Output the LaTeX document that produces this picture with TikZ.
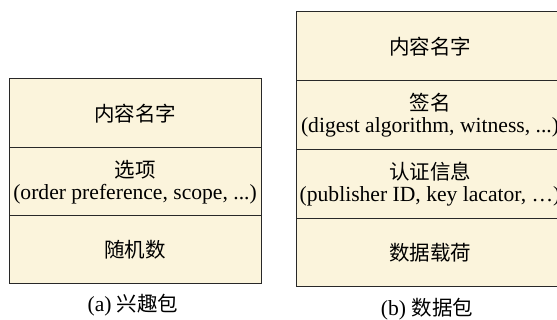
\documentclass[tikz,border=0pt]{standalone}
\usepackage{fontspec}
\setmainfont{Liberation Serif}
\newfontfamily\cjk{Noto Sans CJK SC}
\definecolor{cellfill}{RGB}{251,244,220}
\definecolor{cellline}{RGB}{40,40,40}
\newcommand{\zh}[1]{{\cjk\fontsize{20.5}{22}\selectfont #1}}
\begin{document}
\begin{tikzpicture}[x=1pt,y=-1pt,
  cell/.style={draw=cellline, line width=1pt, fill=cellfill, align=center, inner sep=0pt,
    font=\fontsize{21.6}{22}\selectfont},
  leftcell/.style={cell, minimum width=252pt},
  rightcell/.style={cell, minimum width=268pt},
  caption/.style={font=\fontsize{21.6}{22}\selectfont, inner sep=0pt}]
\clip (0,0) rectangle (557,320);
\fill[white] (0,0) rectangle (557,320);
% (a) interest packet
\node[leftcell, minimum height=69pt] (a1) at (135,113.5) {\zh{内容名字}};
\node[leftcell, minimum height=68pt] (a2) at (135,182) {\zh{选项}\\(order preference, scope, ...)};
\node[leftcell, minimum height=68pt] (a3) at (135,250) {\zh{随机数}};
\node[caption] (ca) at (133,305) {(a) \zh{兴趣包}};
% (b) data packet
\node[rightcell, minimum height=69pt] (b1) at (430,46.5) {\zh{内容名字}};
\node[rightcell, minimum height=69pt] (b2) at (430,115.5) {\zh{签名}\\(digest algorithm, witness, ...)};
\node[rightcell, minimum height=69pt] (b3) at (430,184.5) {\zh{认证信息}\\(publisher ID, key lacator, \dots)};
\node[rightcell, minimum height=68pt] (b4) at (430,253) {\zh{数据载荷}};
\node[caption] (cb) at (427,309) {(b) \zh{数据包}};
\end{tikzpicture}
\end{document}
